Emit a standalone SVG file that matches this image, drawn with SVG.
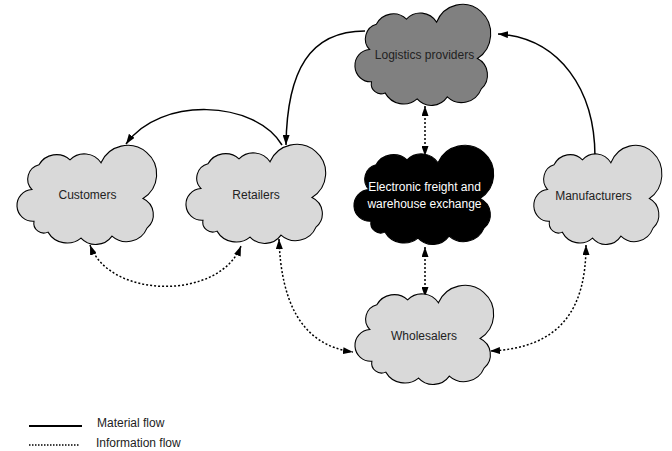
<svg xmlns="http://www.w3.org/2000/svg" xmlns:xlink="http://www.w3.org/1999/xlink" width="672" height="451" viewBox="0 0 672 451">
<style>
.cloud{stroke:#000;stroke-width:1.1;}
.light{fill:#d9d9d9;}
.mid{fill:#808080;}
.dark{fill:#000;}
.lbl{font-family:"Liberation Sans",Arial,sans-serif;font-size:12px;fill:#222;text-anchor:middle;}
.wlbl{font-family:"Liberation Sans",Arial,sans-serif;font-size:12px;fill:#fff;text-anchor:middle;}
.leg{font-family:"Liberation Sans",Arial,sans-serif;font-size:12px;fill:#222;}
.solid{fill:none;stroke:#000;stroke-width:1.5;}
.dot{fill:none;stroke:#000;stroke-width:1.5;stroke-dasharray:2,2;}
</style>
<defs>
<path id="cloudshape" d="M17,45 A15,15 0 0 1 24,20 A20,20 0 0 1 55,15 A20,20 0 0 1 86,18 A29,29 0 1 1 128,54 A18,18 0 0 1 132,84 A22,22 0 0 1 97,92 A20,20 0 0 1 66,94 A22,22 0 0 1 33,88 A10,10 0 0 1 19,77 A16,16 0 0 1 17,45 Z"/>
<marker id="arr" viewBox="0 0 10 7" refX="10" refY="3.5" markerWidth="10" markerHeight="7" markerUnits="userSpaceOnUse" orient="auto-start-reverse">
<path d="M0,0 L10,3.5 L0,7 Z" fill="#000"/>
</marker>
</defs>

<g id="connectors">
<path class="solid" d="M595,157 C595,90 560,38 498,34" marker-end="url(#arr)"/>
<path class="solid" d="M365,31 C310,31 287,70 286,145" marker-end="url(#arr)"/>
<path class="solid" d="M282,145 C255,100 160,96 126,144" marker-end="url(#arr)"/>
<path class="dot" d="M425,106 L425,156" marker-start="url(#arr)" marker-end="url(#arr)"/>
<path class="dot" d="M425,247 L425,297" marker-start="url(#arr)" marker-end="url(#arr)"/>
<path class="dot" d="M90,245 C110,300 220,300 241,246" marker-start="url(#arr)" marker-end="url(#arr)"/>
<path class="dot" d="M279,239 C281,300 300,345 353,352" marker-start="url(#arr)" marker-end="url(#arr)"/>
<path class="dot" d="M586,245 C586,310 560,348 490,351" marker-start="url(#arr)" marker-end="url(#arr)"/>
</g>

<g id="logistics">
<use xlink:href="#cloudshape" class="cloud mid" transform="translate(353,4) scale(0.972,1.01)"/>
<text class="lbl" x="424.5" y="59">Logistics providers</text>
</g>
<g id="customers">
<use xlink:href="#cloudshape" class="cloud light" transform="translate(15,145) scale(1,0.99)"/>
<text class="lbl" x="87.5" y="199">Customers</text>
</g>
<g id="retailers">
<use xlink:href="#cloudshape" class="cloud light" transform="translate(184,144) scale(1,0.99)"/>
<text class="lbl" x="256" y="199">Retailers</text>
</g>
<g id="exchange">
<use xlink:href="#cloudshape" class="cloud dark" transform="translate(352,145) scale(1,0.99)"/>
<text class="wlbl" x="424.5" y="191">Electronic freight and</text>
<text class="wlbl" x="424.5" y="208">warehouse exchange</text>
</g>
<g id="manufacturers">
<use xlink:href="#cloudshape" class="cloud light" transform="translate(532,145) scale(0.917,0.99)"/>
<text class="lbl" x="593.5" y="200">Manufacturers</text>
</g>
<g id="wholesalers">
<use xlink:href="#cloudshape" class="cloud light" transform="translate(353,285) scale(0.993,0.99)"/>
<text class="lbl" x="424" y="340">Wholesalers</text>
</g>

<g id="legend">
<line x1="29" y1="426" x2="82" y2="426" stroke="#000" stroke-width="1.8"/>
<text class="leg" x="97" y="427">Material flow</text>
<line x1="29" y1="445" x2="80" y2="445" stroke="#000" stroke-width="1.5" stroke-dasharray="1.5,1.5"/>
<text class="leg" x="96" y="447">Information flow</text>
</g>
</svg>
